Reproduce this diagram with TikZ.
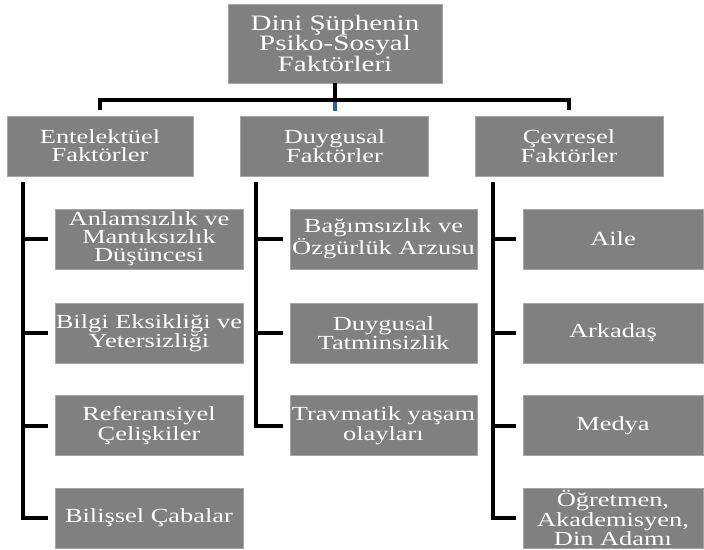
\documentclass[tikz,border=0pt]{standalone}
\usepackage{fontspec}
\setmainfont{Liberation Serif}[FakeStretch=1.32]
\usepackage{tikz}
\usetikzlibrary{calc}

\begin{document}
\begin{tikzpicture}[x=0.75pt,y=0.75pt,yscale=-1,xscale=1,
  box/.style={draw={rgb, 255:red, 166; green, 166; blue, 166},line width=0.6pt,fill={rgb, 255:red, 128; green, 128; blue, 128},text=white,align=center,inner sep=0pt,minimum height=45pt,font=\fontsize{15}{13.6}\selectfont},
  conn/.style={line width=3pt,black},
]
\path [use as bounding box] (0,0) rectangle (704,550);

%Shape: Rectangle [id:top]
\node [box,minimum width=160.5pt,minimum height=59.25pt,font=\fontsize{16.5}{15}\selectfont] (top) at (335,43.5) {Dini Şüphenin\\Psiko-Sosyal\\Faktörleri};

%Shape: Rectangle [id:level 1]
\node [box,minimum width=139.5pt] (ent) at (100,146) {Entelektüel\\Faktörler};
\node [box,minimum width=141pt] (duy) at (334.5,146) {Duygusal\\Faktörler};
\node [box,minimum width=141pt] (cev) at (569,146) {Çevresel\\Faktörler};

%Shape: Rectangle [id:entelektuel]
\node [box,minimum width=141pt] (a1) at (149,239) {Anlamsızlık ve\\Mantıksızlık\\Düşüncesi};
\node [box,minimum width=141pt] (a2) at (149,333) {Bilgi Eksikliği ve\\Yetersizliği};
\node [box,minimum width=141pt] (a3) at (149,425.5) {Referansiyel\\Çelişkiler};
\node [box,minimum width=141pt] (a4) at (149,518) {Bilişsel Çabalar};

%Shape: Rectangle [id:duygusal]
\node [box,minimum width=140.25pt] (b1) at (383.5,239) {Bağımsızlık ve\\Özgürlük Arzusu};
\node [box,minimum width=140.25pt] (b2) at (383.5,333) {Duygusal\\Tatminsizlik};
\node [box,minimum width=140.25pt] (b3) at (383.5,425.5) {Travmatik yaşam\\olayları};

%Shape: Rectangle [id:cevresel]
\node [box,minimum width=135pt] (c1) at (613,239) {Aile};
\node [box,minimum width=135pt] (c2) at (613,333) {Arkadaş};
\node [box,minimum width=135pt] (c3) at (613,425.5) {Medya};
\node [box,minimum width=135pt] (c4) at (613,518) {Öğretmen,\\Akademisyen,\\Din Adamı};

%Straight Lines [id:top bar]
\coordinate (bar) at (335,99.5);
\draw [line width=2.6pt,color={rgb, 255:red, 46; green, 95; blue, 152},shorten >=3.5pt] (bar) -- (bar |- duy.north);
\draw [conn] (top.south) -- (bar);
\draw [conn,shorten <=4.5pt,shorten >=4.5pt] (ent.north) |- (bar) -| (cev.north);

%Straight Lines [id:buses]
\draw [conn,shorten <=4.5pt,shorten >=5.25pt] ([xshift=12pt]ent.south west) |- (a4.west);
\foreach \n in {a1,a2,a3}
  \draw [conn,shorten >=5.25pt] ([xshift=12pt]ent.south west |- \n.west) -- (\n.west);
\draw [conn,shorten <=4.5pt,shorten >=5.25pt] ([xshift=12pt]duy.south west) |- (b3.west);
\foreach \n in {b1,b2}
  \draw [conn,shorten >=5.25pt] ([xshift=12pt]duy.south west |- \n.west) -- (\n.west);
\draw [conn,shorten <=4.5pt,shorten >=5.25pt] ([xshift=13.5pt]cev.south west) |- (c4.west);
\foreach \n in {c1,c2,c3}
  \draw [conn,shorten >=5.25pt] ([xshift=13.5pt]cev.south west |- \n.west) -- (\n.west);

\end{tikzpicture}
\end{document}
